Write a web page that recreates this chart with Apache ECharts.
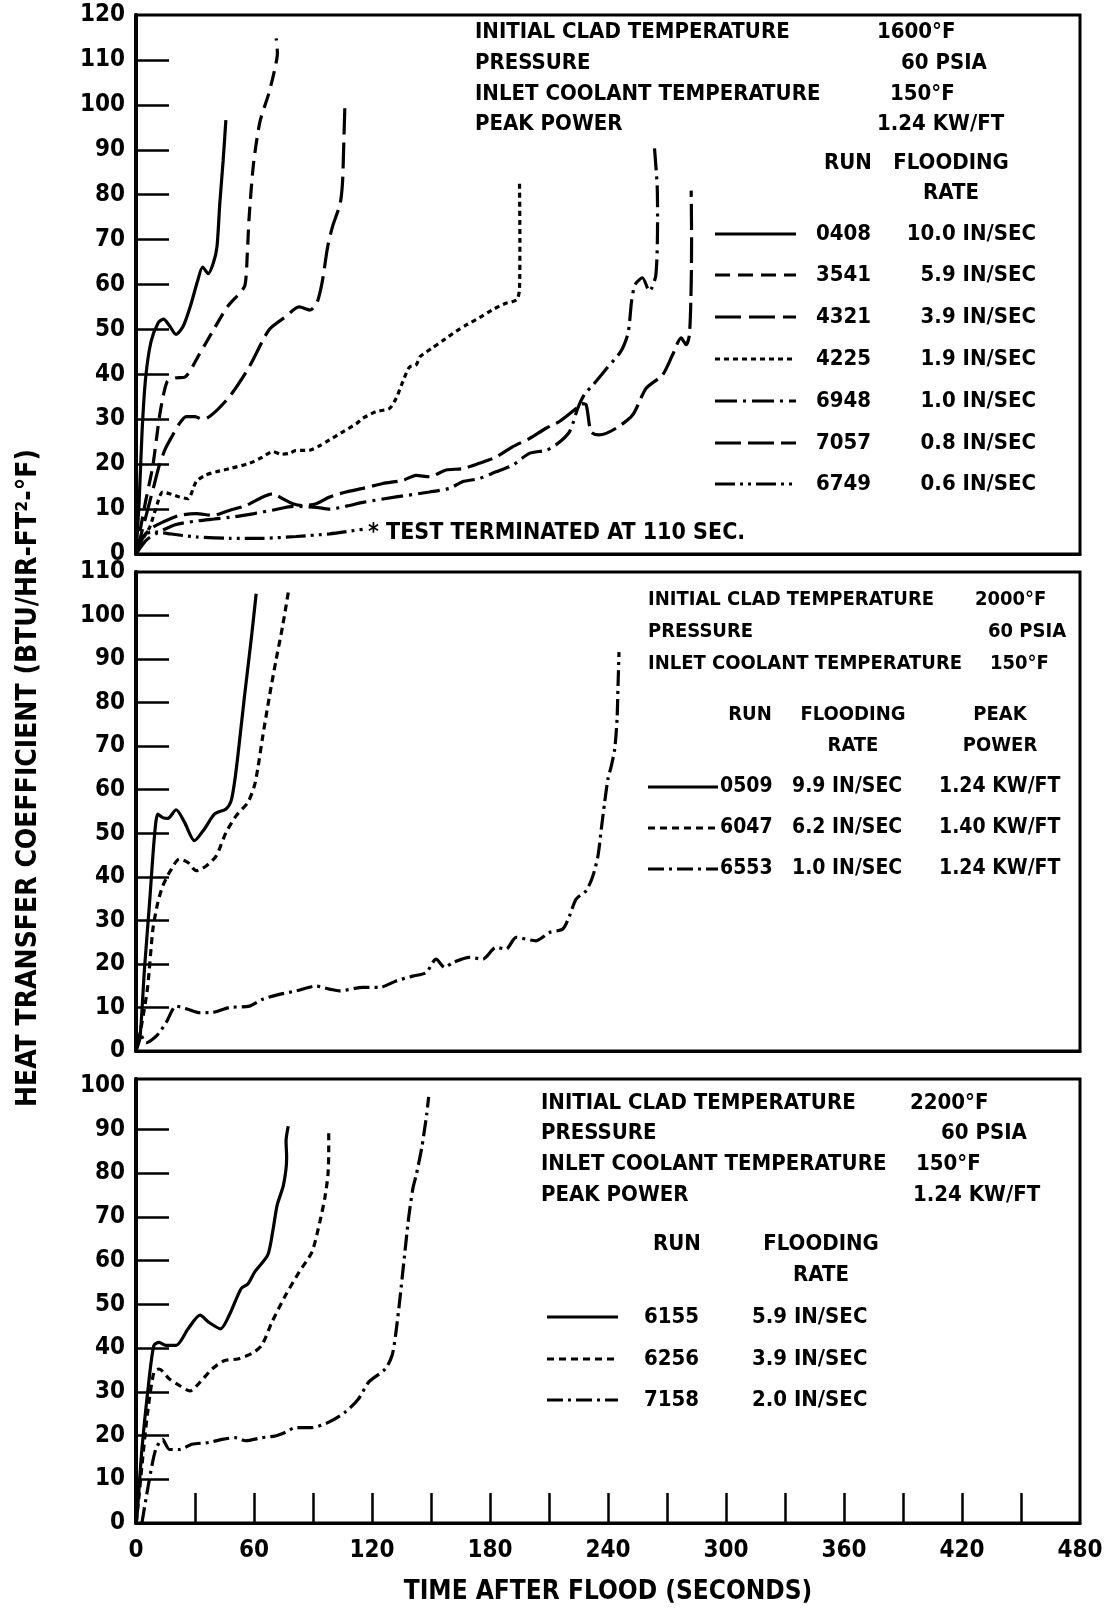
<!DOCTYPE html>
<html>
<head>
<meta charset="utf-8">
<script src="https://cdn.jsdelivr.net/npm/echarts@6.0.0/dist/echarts.min.js"></script>
<style>
html, body { margin: 0; padding: 0; background: #fff; }
#chart { width: 1110px; height: 1608px; }
</style>
</head>
<body>
<div id="chart"></div>
<script>
// time after flood (s), heat transfer coefficient (BTU/HR-FT2-F)
// panel 1: initial clad temperature 1600 F
const run0408 = [[0,0],[1.6,11.6],[3.1,27.4],[4.9,39.2],[7.6,47.2],[11.3,51.5],[14,52.3],[17.2,50.7],[20.3,48.9],[24,50.7],[27.6,55.1],[31.2,60.6],[33.9,63.9],[36.7,62.4],[39.4,64.9],[41.2,68.5],[42.6,78],[44.3,87.5],[45.7,96.6]]
const run3541 = [[0,0],[2,5],[5,12],[8.5,19.5],[12.2,31.3],[15.8,38.3],[20,39.2],[24.9,39.4],[32.1,44.4],[39.4,49.9],[46.6,55.1],[52.1,57.8],[55.4,59.8],[56.6,66.9],[57.5,74.8],[59.7,86.7],[63,96.2],[67.5,102.5],[70.6,108],[71.9,111.5],[71.3,114.8]]
const run4321 = [[0,0],[3,5],[6,10],[9,15],[11.9,19.8],[15,23.5],[18.7,26.5],[22,29],[25.5,30.6],[30,30.6],[34,29.9],[39.4,31.3],[48,35.3],[57.5,41.6],[65,48],[68.4,50.3],[75.7,52.7],[83,55],[88.4,54.3],[92,55.9],[94.7,60.6],[97.5,68.5],[100,73],[103.8,78],[105,82.7],[105.6,90.6],[106.2,99.7]]
const run4225 = [[0,0],[3,3],[7,6],[10,10],[13.6,13.8],[18,13.3],[22.1,12.7],[26.4,12.3],[30.6,16.1],[35,17.5],[40.8,18.3],[47.5,19],[57.7,20.2],[64,21.5],[69.6,22.8],[74,22.2],[78,22.4],[81,23],[88.2,23.1],[93,24],[98.4,25.4],[105.2,27.2],[112,29],[115.3,30.2],[122.1,31.7],[128.9,32.4],[132.3,34.7],[135.7,38.4],[139,41.6],[142.4,42.1],[144.6,44],[150.8,45.9],[156,47.5],[162.8,49.6],[168,51],[174.6,52.6],[181,54.3],[184.8,55.2],[188,55.8],[193.6,56.6],[195,59],[195.2,70],[195,83.2]]
const run6948 = [[0,0],[5,3],[10,4.5],[20,6.5],[30,7.3],[40,7.8],[50,8.3],[60,9],[70,9.8],[80,10.6],[91.6,10.4],[98.4,10],[108.6,10.8],[115.3,11.5],[132.3,12.7],[149.2,13.8],[159.4,14.6],[166,16.1],[174.6,16.8],[183,18.3],[191.6,19.8],[200,22.4],[208.5,23.1],[213.6,24.3],[220.4,27.2],[224.6,32.4],[228,35.5],[232.5,37.7],[239.5,41.4],[246.5,45.1],[250,48.8],[251,51.8],[252,56.3],[253.8,60],[257.5,61.5],[261,58.5],[264.3,62],[265.2,75],[265,82],[263.6,90.6]]
const run7057 = [[0,0],[4,4],[8,5.8],[13.6,7.1],[22.1,8.6],[30.6,9],[39.1,8.6],[47.5,9.7],[56,10.8],[64.5,12.7],[69.6,13.4],[74.6,12.3],[79.7,11.2],[84.8,10.8],[91.6,11.2],[98.4,12.7],[106.8,13.8],[115.3,14.6],[125.5,15.7],[135.7,16.4],[142.4,17.5],[149.2,17.2],[157.7,18.7],[166.2,19],[174.6,20.2],[183.1,21.6],[191.6,23.9],[200,25.7],[208.5,28],[215.3,29.5],[223.8,32.4],[226.5,33.5],[228.9,33.2],[231.4,27.2],[235.6,26.5],[244.1,28],[252.6,31],[259.4,36.9],[267.8,39.9],[272.9,44.4],[277.2,48.1],[279.7,46.6],[281.4,48.8],[282.3,60],[282.5,70],[282.3,80.9]]
const run6749 = [[0,0],[3.5,4.2],[10.3,4.9],[17,4.5],[30.6,3.8],[47.5,3.5],[64.5,3.5],[81.4,3.9],[98.4,4.5],[115.3,5.5]]

// panel 2: initial clad temperature 2000 F
const run0509 = [[0,0],[2,3],[4.3,18.8],[6.9,34.1],[9.4,49.4],[11.1,54.4],[13.6,53.6],[16.2,53.4],[20.4,55.4],[24.7,52.5],[29.7,48.3],[34.8,51],[39.9,54.4],[45.8,55.6],[48.4,57.5],[50.1,61.7],[51.8,67.8],[55.2,81.6],[58.6,94.6],[61.1,105]]
const run6047 = [[0,0],[2,4],[4,9],[6,15],[8.6,28],[11.1,34.1],[13.6,37.9],[17,41],[22.1,44.1],[26.4,43.3],[30.6,41.4],[35.7,42.5],[40.8,44.8],[45.8,50.2],[50.9,54],[56.9,57.1],[60.2,60.9],[61.9,64.8],[64.5,72.4],[67.9,81.6],[71.3,90],[74.6,97.7],[77.7,106.1]]
const run6553 = [[0,0],[2,4],[5.2,1.9],[10.3,3.4],[15.3,6.5],[20.4,10.3],[26.4,9.6],[32.3,8.8],[38.2,8.8],[47.5,10],[57.7,10.3],[64.5,11.9],[72.9,13],[81.4,13.8],[91.6,14.9],[98.4,14.2],[103.5,13.8],[115.3,14.6],[123.8,14.6],[132.3,16.1],[140.7,17.2],[147.5,18],[152.6,21.1],[156.9,19.2],[161.1,20.3],[169.5,21.5],[176.3,21.1],[183.1,23.8],[188.2,23.4],[193.3,26.1],[203.4,25.3],[210.2,27.2],[217,28],[220.4,31],[223.8,34.9],[228.9,36.8],[232.3,40.2],[234.9,44.8],[236.6,51],[238.3,57.1],[240,62.5],[241.7,65.5],[243.4,69.3],[244.6,76.2],[245.1,83.9],[245.6,91.6]]

// panel 3: initial clad temperature 2200 F
const run6155 = [[0,0],[0.4,0.8],[3,16.8],[6.5,32.2],[9.1,40.6],[11.7,41.3],[15.2,40.6],[20.4,40.6],[26.5,44.4],[32.6,47.5],[37,45.9],[43,44.4],[47.4,47.5],[53.5,53.6],[57,54.7],[60.4,57.4],[67,61.3],[69.5,66.6],[71.8,72.7],[75,77.3],[76.6,83.5],[76.3,87.3],[77.4,90.7]]
const run6256 = [[0,0],[1.5,6],[3,13],[5.7,24.5],[9.1,34.5],[11.7,35.2],[17,32.9],[22.2,31.4],[27.4,30.2],[32.6,32.2],[38.7,35.2],[44.8,37.1],[51.7,37.5],[58.7,38.7],[63.9,40.6],[69.1,45.9],[76.1,52.1],[83,57.4],[89.5,62],[93.5,68.9],[96,74.3],[97.6,79.6],[98,85.8],[98,89.2]]
const run7158 = [[3,0],[6.5,9.2],[10,16.8],[13.5,19.1],[17,16.8],[22,16.8],[28.5,18],[37,18.4],[43.8,19.1],[50.5,19.5],[55.7,18.8],[64,19.5],[70.8,19.9],[75.8,20.7],[81,21.8],[89.4,21.8],[97.8,23],[106.3,25.3],[113,28.3],[118.3,32.2],[126.7,35.2],[130.2,38.3],[132,43],[134.2,51.3],[136.5,61],[138.7,70],[140.8,76.5],[142.5,79.6],[145.3,85.8],[147.8,93.4],[148.8,97.4]]

// axis ticks / labels
const xTicks = [30,60,90,120,150,180,210,240,270,300,330,360,390,420,450]
const xLabels = [0,60,120,180,240,300,360,420,480]
const yMax = [120, 110, 101.5]
const yTicks = [
  [10,20,30,40,50,60,70,80,90,100,110],
  [10,20,30,40,50,60,70,80,90,100],
  [10,20,30,40,50,60,70,80,90]
]
const yLabels = [
  [0,10,20,30,40,50,60,70,80,90,100,110,120],
  [0,10,20,30,40,50,60,70,80,90,100,110],
  [0,10,20,30,40,50,60,70,80,90,100]
]

// legend tables
const topRuns = ['0408','3541','4321','4225','6948','7057','6749']
const topRates = ['10.0 IN/SEC','5.9 IN/SEC','3.9 IN/SEC','1.9 IN/SEC','1.0 IN/SEC','0.8 IN/SEC','0.6 IN/SEC']
const midRuns = ['0509','6047','6553']
const midRates = ['9.9 IN/SEC','6.2 IN/SEC','1.0 IN/SEC']
const midPowers = ['1.24 KW/FT','1.40 KW/FT','1.24 KW/FT']
const botRuns = ['6155','6256','7158']
const botRates = ['5.9 IN/SEC','3.9 IN/SEC','2.0 IN/SEC']

// line dash styles
const DASH = {
  '0408': 'solid', '3541': [15, 8], '4321': [26, 8], '4225': [5, 4],
  '6948': [22, 6, 3, 6], '7057': [26, 7], '6749': [20, 5, 3, 5, 3, 5],
  '0509': 'solid', '6047': [7, 5], '6553': [16, 5, 3, 5],
  '6155': 'solid', '6256': [7, 5], '7158': [16, 5, 3, 5]
}

const FONT = '"DejaVu Sans Condensed", "DejaVu Sans", sans-serif'
const chart = echarts.init(document.getElementById('chart'))

function run(name, data, axis) {
  return {
    name, type: 'line', xAxisIndex: axis, yAxisIndex: axis, data,
    showSymbol: false, smooth: 0.25, silent: true,
    lineStyle: { color: '#000', width: 3.2, type: DASH[name] }
  }
}

function txt(s, x, y, align, size) {
  return {
    type: 'text', x, y, silent: true,
    style: { text: s, fill: '#000', fontSize: size || 22, fontWeight: 'bold', fontFamily: FONT,
      textAlign: align || 'left', textVerticalAlign: 'middle' }
  }
}

function sample(x1, x2, y, dash) {
  return {
    type: 'line', silent: true, shape: { x1, y1: y, x2, y2: y },
    style: { stroke: '#000', lineWidth: 3.2, lineDash: dash === 'solid' ? null : dash }
  }
}

const gridBox = [
  { top: 15, height: 539 },
  { top: 572, height: 479 },
  { top: 1079, height: 444 }
]

const graphics = []
// panel 1 header
graphics.push(
  txt('INITIAL CLAD TEMPERATURE', 475, 32), txt('1600°F', 877, 32),
  txt('PRESSURE', 475, 63), txt('60 PSIA', 901, 63),
  txt('INLET COOLANT TEMPERATURE', 475, 94), txt('150°F', 890, 94),
  txt('PEAK POWER', 475, 124), txt('1.24 KW/FT', 877, 124),
  txt('RUN', 848, 163, 'center'), txt('FLOODING', 951, 163, 'center'), txt('RATE', 951, 193, 'center'),
  txt('* TEST TERMINATED AT 110 SEC.', 368, 533, 'left', 23)
)
const topRowY = [234, 275, 317, 359, 401, 443, 484]
topRuns.forEach((r, i) => {
  graphics.push(sample(715, 796, topRowY[i], DASH[r]), txt(r, 816, topRowY[i]), txt(topRates[i], 1036, topRowY[i], 'right'))
})
// panel 2 header (smaller lettering)
graphics.push(
  txt('INITIAL CLAD TEMPERATURE', 648, 600, 'left', 20), txt('2000°F', 975, 600, 'left', 20),
  txt('PRESSURE', 648, 632, 'left', 20), txt('60 PSIA', 988, 632, 'left', 20),
  txt('INLET COOLANT TEMPERATURE', 648, 664, 'left', 20), txt('150°F', 990, 664, 'left', 20),
  txt('RUN', 750, 715, 'center', 20), txt('FLOODING', 853, 715, 'center', 20), txt('RATE', 853, 746, 'center', 20),
  txt('PEAK', 1000, 715, 'center', 20), txt('POWER', 1000, 746, 'center', 20)
)
const midRowY = [787, 828, 869]
midRuns.forEach((r, i) => {
  graphics.push(sample(648, 718, midRowY[i], DASH[r]), txt(r, 720, midRowY[i], 'left', 21),
    txt(midRates[i], 792, midRowY[i], 'left', 21), txt(midPowers[i], 939, midRowY[i], 'left', 21))
})
// panel 3 header
graphics.push(
  txt('INITIAL CLAD TEMPERATURE', 541, 1103), txt('2200°F', 910, 1103),
  txt('PRESSURE', 541, 1133), txt('60 PSIA', 941, 1133),
  txt('INLET COOLANT TEMPERATURE', 541, 1164), txt('150°F', 916, 1164),
  txt('PEAK POWER', 541, 1195), txt('1.24 KW/FT', 913, 1195),
  txt('RUN', 677, 1244, 'center'), txt('FLOODING', 821, 1244, 'center'), txt('RATE', 821, 1275, 'center')
)
const botRowY = [1317, 1359, 1400]
botRuns.forEach((r, i) => {
  graphics.push(sample(547, 618, botRowY[i], DASH[r]), txt(r, 644, botRowY[i]), txt(botRates[i], 752, botRowY[i]))
})
// axis titles
graphics.push(txt('TIME AFTER FLOOD (SECONDS)', 608, 1592, 'center', 26))
const yTitle = txt('HEAT TRANSFER COEFFICIENT (BTU/HR-FT²-°F)', 0, 0, 'center', 28)
yTitle.x = 29; yTitle.y = 778; yTitle.rotation = Math.PI / 2
graphics.push(yTitle)

const labelStyle = { color: '#000', fontSize: 24, fontWeight: 'bold', fontFamily: FONT }

chart.setOption({
  animation: false,
  backgroundColor: '#fff',
  grid: gridBox.map(g => ({
    left: 136, width: 944, top: g.top, height: g.height,
    show: true, borderColor: '#000', borderWidth: 3
  })),
  xAxis: [0, 1, 2].map(i => ({
    type: 'value', gridIndex: i, min: 0, max: 480, interval: 30,
    axisLine: { show: true, onZero: false, lineStyle: { color: '#000', width: 3 } },
    splitLine: { show: false },
    axisTick: i === 2
      ? { show: true, inside: true, length: 30, customValues: xTicks, lineStyle: { color: '#000', width: 2.5 } }
      : { show: false },
    axisLabel: i === 2
      ? Object.assign({ show: true, margin: 16, customValues: xLabels }, labelStyle)
      : { show: false }
  })),
  yAxis: [0, 1, 2].map(i => ({
    type: 'value', gridIndex: i, min: 0, max: yMax[i],
    axisLine: { show: true, lineStyle: { color: '#000', width: 4 } },
    splitLine: { show: false },
    axisTick: { show: true, inside: true, length: 33, customValues: yTicks[i], lineStyle: { color: '#000', width: 2.5 } },
    axisLabel: Object.assign({ show: true, margin: 11, customValues: yLabels[i] }, labelStyle)
  })),
  series: [
    run('0408', run0408, 0), run('3541', run3541, 0), run('4321', run4321, 0), run('4225', run4225, 0),
    run('6948', run6948, 0), run('7057', run7057, 0), run('6749', run6749, 0),
    run('0509', run0509, 1), run('6047', run6047, 1), run('6553', run6553, 1),
    run('6155', run6155, 2), run('6256', run6256, 2), run('7158', run7158, 2)
  ],
  graphic: graphics
})
</script>
</body>
</html>
